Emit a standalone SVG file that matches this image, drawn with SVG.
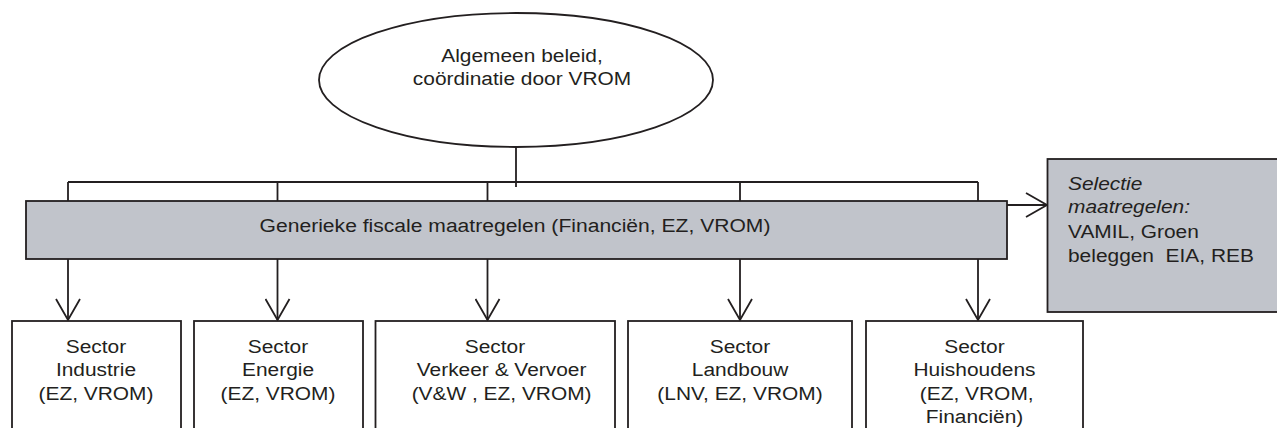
<svg xmlns="http://www.w3.org/2000/svg" width="1277" height="428" viewBox="0 0 1277 428">
<style>
.t{font-family:"Liberation Sans",Arial,sans-serif;font-size:19px;fill:#231f20;white-space:pre}
.c{text-anchor:middle}
.i{font-style:italic}
.box{fill:#ffffff;stroke:#231f20;stroke-width:1.8}
.grey{fill:#c1c4cb;stroke:#231f20;stroke-width:1.8}
.ln{fill:none;stroke:#231f20;stroke-width:1.8}
</style>
<defs>
<marker id="arr" viewBox="0 0 24 26" refX="22" refY="13" markerWidth="24" markerHeight="26" markerUnits="userSpaceOnUse" orient="auto">
<path d="M1,1 L22,13 L1,25" fill="none" stroke="#231f20" stroke-width="1.8"/>
</marker>
</defs>
<rect width="1277" height="428" fill="#ffffff"/>
<g id="connectors">
<path class="ln" d="M516,147 V187"/>
<path class="ln" d="M68,182 H978"/>
<path class="ln" d="M68,182 V201 M277.5,182 V201 M487.5,182 V201 M740,182 V201 M978,182 V201"/>
<path class="ln" d="M68,259 V320" marker-end="url(#arr)"/>
<path class="ln" d="M277.5,259 V320" marker-end="url(#arr)"/>
<path class="ln" d="M487.5,259 V320" marker-end="url(#arr)"/>
<path class="ln" d="M740,259 V320" marker-end="url(#arr)"/>
<path class="ln" d="M978,259 V320" marker-end="url(#arr)"/>
<path class="ln" d="M1007,205 H1047" marker-end="url(#arr)"/>
</g>
<g id="node-algemeen">
<ellipse class="box" cx="516" cy="80" rx="197" ry="67"/>
<g transform="translate(522,0) scale(1.1,1)">
<text class="t c" x="0" y="62">Algemeen beleid,</text>
<text class="t c" x="0" y="85">coördinatie door VROM</text>
</g>
</g>
<g id="node-generiek">
<rect class="grey" x="26" y="201" width="981" height="58"/>
<g transform="translate(515,0) scale(1.11,1)">
<text class="t c" x="0" y="232">Generieke fiscale maatregelen (Financiën, EZ, VROM)</text>
</g>
</g>
<g id="node-selectie">
<rect class="grey" x="1047.5" y="159" width="240" height="153"/>
<g transform="translate(1068,0) scale(1.1,1)">
<text class="t i" x="0" y="190">Selectie</text>
<text class="t i" x="0" y="213">maatregelen:</text>
<text class="t" x="0" y="238">VAMIL, Groen</text>
<text class="t" x="0" y="262">beleggen  EIA, REB</text>
</g>
</g>
<g id="node-industrie">
<rect class="box" x="12" y="321" width="169" height="130"/>
<g transform="translate(96,0) scale(1.1,1)">
<text class="t c" x="0" y="353">Sector</text>
<text class="t c" x="0" y="376.5">Industrie</text>
<text class="t c" x="0" y="400">(EZ, VROM)</text>
</g>
</g>
<g id="node-energie">
<rect class="box" x="194" y="321" width="169" height="130"/>
<g transform="translate(278,0) scale(1.1,1)">
<text class="t c" x="0" y="353">Sector</text>
<text class="t c" x="0" y="376.5">Energie</text>
<text class="t c" x="0" y="400">(EZ, VROM)</text>
</g>
</g>
<g id="node-verkeer">
<rect class="box" x="375.5" y="321" width="239.5" height="130"/>
<g transform="translate(495,0) scale(1.1,1)">
<text class="t c" x="0" y="353">Sector</text>
<text class="t c" x="6" y="376.5">Verkeer &amp; Vervoer</text>
<text class="t c" x="6" y="400">(V&amp;W , EZ, VROM)</text>
</g>
</g>
<g id="node-landbouw">
<rect class="box" x="628" y="321" width="224" height="130"/>
<g transform="translate(740,0) scale(1.1,1)">
<text class="t c" x="0" y="353">Sector</text>
<text class="t c" x="0" y="376.5">Landbouw</text>
<text class="t c" x="0" y="400">(LNV, EZ, VROM)</text>
</g>
</g>
<g id="node-huishoudens">
<rect class="box" x="866" y="321" width="217" height="130"/>
<g transform="translate(974.5,0) scale(1.1,1)">
<text class="t c" x="0" y="353">Sector</text>
<text class="t c" x="0" y="376.5">Huishoudens</text>
<text class="t c" x="2" y="400">(EZ, VROM,</text>
<text class="t c" x="0" y="423.5">Financiën)</text>
</g>
</g>
</svg>
